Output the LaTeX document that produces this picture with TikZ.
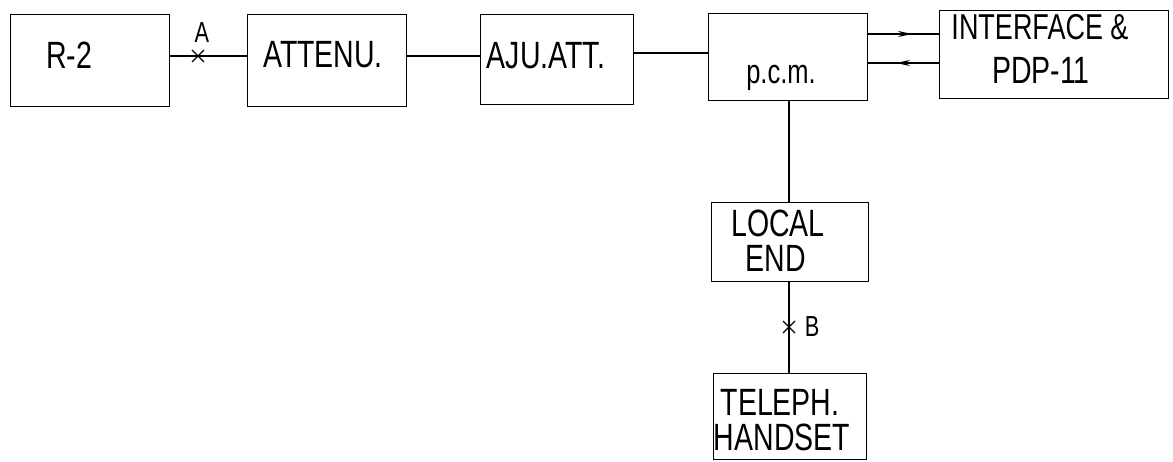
\documentclass[tikz,border=0pt]{standalone}
\usepackage{fontspec}
\setmainfont{Liberation Sans}[FakeStretch=0.75]
\usetikzlibrary{arrows.meta}
\begin{document}
\begin{tikzpicture}[x=1pt,y=-1pt,
  box/.style={draw, line width=1.2pt, inner sep=0pt, anchor=north west},
  lbl/.style={font=\fontsize{38}{40}\selectfont, inner sep=0pt},
  small/.style={font=\fontsize{29}{31}\selectfont, inner sep=0pt},
  wire/.style={line width=1.2pt},
  headed/.style={line width=1.2pt, -{Stealth[length=14pt,width=6pt]}},
  xmark/.style={line width=1.2pt}]
\useasboundingbox (0,0) rectangle (1173,462);
% boxes
\node[box, minimum width=159pt, minimum height=92pt] (r2) at (10,14) {};
\node[box, minimum width=159pt, minimum height=92pt] (att) at (247,14) {};
\node[box, minimum width=153pt, minimum height=90pt] (aju) at (480,14) {};
\node[box, minimum width=159pt, minimum height=87pt] (pcm) at (708,13) {};
\node[box, minimum width=229pt, minimum height=88pt] (intf) at (939,10) {};
\node[box, minimum width=157pt, minimum height=79pt] (loc) at (711,202) {};
\node[box, minimum width=153pt, minimum height=86pt] (tel) at (713,373) {};
% texts
\node[lbl] (t1) at (69,55) {R-2};
\node[lbl] (t2) at (323,55) {ATTENU.};
\node[lbl] (t3) at (546,56) {AJU.ATT.};
\node[lbl, font=\fontsize{34}{36}\selectfont, anchor=base] (t4) at (781,84) {p.c.m.};
\node[lbl, font=\fontsize{36}{38}\selectfont] (t5) at (1040,27) {INTERFACE \&};
\node[lbl] (t6) at (1041,70) {PDP-11};
\node[lbl] (t7) at (778,223) {LOCAL};
\node[lbl] (t8) at (776,258) {END};
\node[lbl] (t9) at (780,402) {TELEPH.};
\node[lbl] (t10) at (782,437) {HANDSET};
% arrow tip positions
\coordinate (tipR) at (912,34);
\coordinate (tipL) at (896,63);
% connectors
\draw[wire] (r2.east |- 0,56) -- (att.west |- 0,56);
\draw[wire] (att.east |- 0,56) -- (aju.west |- 0,56);
\draw[wire] (aju.east |- 0,53) -- (pcm.west |- 0,53);
\draw[wire] (pcm.east |- tipR) -- (intf.west |- tipR);
\draw[headed] (pcm.east |- tipR) -- (tipR);
\draw[wire] (intf.west |- tipL) -- (pcm.east |- tipL);
\draw[headed] (intf.west |- tipL) -- (tipL);
\draw[wire] (pcm.south -| 789,0) -- (loc.north -| 789,0);
\draw[wire] (loc.south -| 789,0) -- (tel.north -| 789,0);
% crosses
\coordinate (ca) at (198,56);
\draw[xmark] ([shift={(-6,-6)}]ca) -- ([shift={(6,6)}]ca) ([shift={(-6,6)}]ca) -- ([shift={(6,-6)}]ca);
\node[small] (la) at (202,33) {A};
\coordinate (cb) at (789,327);
\draw[xmark] ([shift={(-6,-6)}]cb) -- ([shift={(6,6)}]cb) ([shift={(-6,6)}]cb) -- ([shift={(6,-6)}]cb);
\node[small] (lb) at (812,327) {B};
\end{tikzpicture}
\end{document}
